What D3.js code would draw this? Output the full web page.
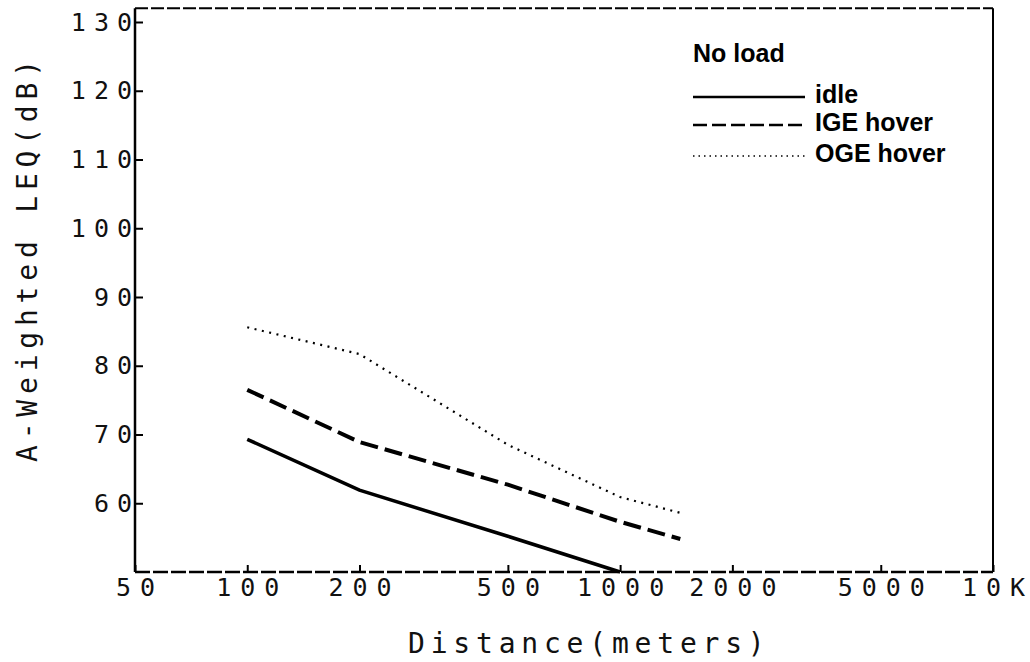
<!DOCTYPE html>
<html>
<head>
<meta charset="utf-8">
<script src="https://cdn.jsdelivr.net/npm/d3@7"></script>
<style>
    body { margin: 0; background: #fff; }
    .tick text { font-family: "DejaVu Sans Mono", monospace; fill: #111; }
    .tick line { stroke: #000; stroke-width: 2; }
</style>
</head>
<body>
<div id="chart-area"></div>
<script>
// Data (dB vs. distance in meters)
let distances = [100, 200, 500, 1000, 1450];
let idle      = [69.3, 61.9, 55.2, 50.0];
let igeHover  = [76.5, 68.9, 62.7, 57.3, 54.8];
let ogeHover  = [85.6, 81.7, 68.5, 60.9, 58.6];

let xTicks      = [50, 100, 200, 500, 1000, 2000, 5000, 10000];
let xTickLabels = ["50", "100", "200", "500", "1000", "2000", "5000", "10K"];
let yTicks      = [60, 70, 80, 90, 100, 110, 120, 130];

let legendTitle = "No load";
let seriesNames = ["idle", "IGE hover", "OGE hover"];

let margin = { left: 135, right: 37, top: 22, bottom: 90 };

let width = 1030 - margin.left - margin.right,
    height = 662 - margin.top - margin.bottom;

// spread the characters out like the plotter font, without trailing space
function spread(str, s) {
    return String(str).split("").map(function(c, i){ return i === 0 ? 0 : s; }).join(" ");
}

let svg = d3.select("#chart-area")
    .append("svg")
    .attr("width", 1030)
    .attr("height", 662);

let g = svg.append("g")
    .attr("transform", "translate(" + margin.left + ", " + margin.top + ")");

// Scales
let x = d3.scaleLog()
    .domain([50, 10000])
    .range([0, width]);

let y = d3.scaleLinear()
    .domain([50, 130])
    .range([height, 0]);

let frameTop = y(132);

// Frame: left + right solid, top + bottom look dashed on the plotter output
g.append("line")
    .attr("x1", 0).attr("x2", 0)
    .attr("y1", frameTop).attr("y2", height)
    .attr("stroke", "#000").attr("stroke-width", 2.5);
g.append("line")
    .attr("x1", width).attr("x2", width)
    .attr("y1", frameTop).attr("y2", height)
    .attr("stroke", "#000").attr("stroke-width", 2);
g.append("line")
    .attr("x1", 0).attr("x2", width)
    .attr("y1", frameTop).attr("y2", frameTop)
    .attr("stroke", "#000").attr("stroke-width", 2)
    .attr("stroke-dasharray", "13,3");
g.append("line")
    .attr("x1", 0).attr("x2", width)
    .attr("y1", height).attr("y2", height)
    .attr("stroke", "#000").attr("stroke-width", 2.5)
    .attr("stroke-dasharray", "15,3");

// X Axis (ticks point inward)
let xAxisCall = d3.axisBottom(x)
    .tickValues(xTicks)
    .tickSize(-7)
    .tickPadding(6)
    .tickFormat(function(d, i){ return xTickLabels[i]; });
let xAxis = g.append("g")
    .attr("class", "x axis")
    .attr("transform", "translate(0," + height + ")")
    .call(xAxisCall);
xAxis.select(".domain").remove();
xAxis.selectAll("text")
    .attr("font-size", "25px")
    .attr("dx", function(d, i){ return spread(xTickLabels[i], 9); });

// Y Axis (ticks point inward)
let yAxisCall = d3.axisLeft(y)
    .tickValues(yTicks)
    .tickSize(-8)
    .tickPadding(3)
    .tickFormat(function(d){ return d; });
let yAxis = g.append("g")
    .attr("class", "y axis")
    .call(yAxisCall);
yAxis.select(".domain").remove();
yAxis.selectAll("text")
    .attr("font-size", "25px")
    .attr("dx", function(d){ return spread(d, 8); });

// X Label
g.append("text")
    .attr("x", 273)
    .attr("y", height + 81)
    .attr("font-family", "DejaVu Sans Mono, monospace")
    .attr("font-size", "28px")
    .attr("letter-spacing", 5.8)
    .attr("fill", "#111")
    .text("Distance(meters)");

// Y Label
g.append("text")
    .attr("x", -440)
    .attr("y", -98)
    .attr("transform", "rotate(-90)")
    .attr("font-family", "DejaVu Sans Mono, monospace")
    .attr("font-size", "28px")
    .attr("letter-spacing", 5.8)
    .attr("fill", "#111")
    .text("A-Weighted LEQ(dB)");

// Lines
let series = [
    { name: seriesNames[0], values: idle,     dash: null,    w: 3.5, legendDash: null,    lw: 2.5 },
    { name: seriesNames[1], values: igeHover, dash: "18,7",  w: 4,   legendDash: "14,5",  lw: 2.5 },
    { name: seriesNames[2], values: ogeHover, dash: "2,5.5", w: 2.2, legendDash: "1.5,4", lw: 1.5 }
];

let line = d3.line()
    .x(function(d, i){ return x(distances[i]); })
    .y(function(d){ return y(d); });

g.selectAll(".series")
    .data(series)
    .enter()
    .append("path")
    .attr("class", "series")
    .attr("d", function(d){ return line(d.values); })
    .attr("fill", "none")
    .attr("stroke", "#000")
    .attr("stroke-width", function(d){ return d.w; })
    .attr("stroke-dasharray", function(d){ return d.dash; });

// Legend
let legend = g.append("g")
    .attr("transform", "translate(558, 40)");

legend.append("text")
    .attr("x", 0)
    .attr("y", 0)
    .attr("font-family", "Liberation Sans, Arial, sans-serif")
    .attr("font-weight", "bold")
    .attr("font-size", "25px")
    .attr("fill", "#000")
    .text(legendTitle);

let rowY = [41, 69, 100];

let rows = legend.selectAll(".row")
    .data(series)
    .enter()
    .append("g")
    .attr("class", "row")
    .attr("transform", function(d, i){ return "translate(0," + rowY[i] + ")"; });

rows.append("line")
    .attr("x1", 0).attr("x2", 112)
    .attr("y1", -6).attr("y2", -6)
    .attr("stroke", "#000")
    .attr("stroke-width", function(d){ return d.lw; })
    .attr("stroke-dasharray", function(d){ return d.legendDash; });

rows.append("text")
    .attr("x", 122)
    .attr("y", 0)
    .attr("font-family", "Liberation Sans, Arial, sans-serif")
    .attr("font-weight", "bold")
    .attr("font-size", "25px")
    .attr("fill", "#000")
    .text(function(d){ return d.name; });
</script>
</body>
</html>
